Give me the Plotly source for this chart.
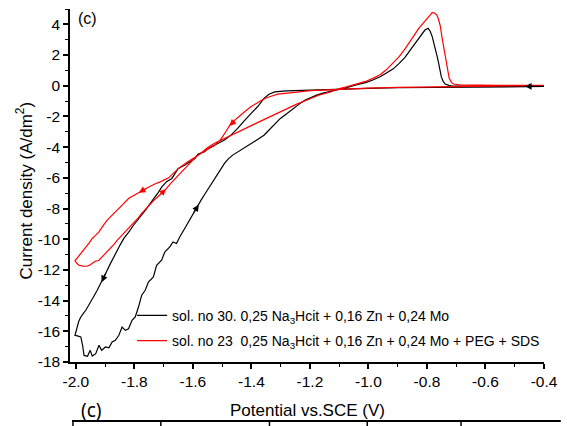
import plotly.graph_objects as go

# ---------------- data ----------------
BLACK_X = [-0.40, -0.50, -0.60, -0.70, -0.80, -0.90, -1.00, -1.10, -1.20, -1.28, -1.32, -1.34, -1.357, -1.379,
           -1.40, -1.413, -1.43, -1.447, -1.47, -1.492, -1.51, -1.526, -1.545, -1.56, -1.582, -1.593, -1.61,
           -1.627, -1.65, -1.66, -1.672, -1.69, -1.706, -1.718, -1.728, -1.745, -1.762, -1.775, -1.79, -1.803,
           -1.82, -1.836, -1.848, -1.859, -1.87, -1.882, -1.895, -1.906, -1.918, -1.927, -1.938, -1.949, -1.958,
           -1.966, -1.975, -1.983, -1.99, -1.994, -2.003,
           -1.995, -1.983, -1.977, -1.972, -1.96, -1.951, -1.944, -1.932, -1.921, -1.912, -1.899, -1.887, -1.876,
           -1.865, -1.853, -1.842, -1.831, -1.820, -1.808, -1.797, -1.786, -1.775, -1.763, -1.752, -1.735, -1.724,
           -1.707, -1.696, -1.679, -1.668, -1.656, -1.645, -1.628, -1.606, -1.588, -1.572, -1.554, -1.54, -1.526,
           -1.51, -1.492, -1.478, -1.464, -1.445, -1.424, -1.408, -1.391, -1.375, -1.357, -1.343, -1.329, -1.315,
           -1.301, -1.285, -1.272, -1.258, -1.244, -1.23, -1.216, -1.197, -1.177, -1.155, -1.132, -1.109, -1.075,
           -1.042, -1.01, -0.985, -0.96, -0.94, -0.915, -0.895, -0.875, -0.861, -0.845, -0.828, -0.807, -0.796,
           -0.789, -0.782, -0.776, -0.771, -0.765, -0.760, -0.755, -0.751, -0.745, -0.738, -0.725, -0.715, -0.65,
           -0.55, -0.45, -0.40]
BLACK_Y = [-0.05, -0.06, -0.07, -0.08, -0.10, -0.13, -0.17, -0.22, -0.28, -0.33, -0.40, -0.55, -0.82, -1.37,
           -1.78, -2.02, -2.40, -2.78, -3.22, -3.54, -3.70, -3.87, -4.05, -4.30, -4.45, -4.74, -4.95,
           -5.17, -5.39, -5.70, -6.04, -6.25, -6.59, -6.95, -7.24, -7.65, -8.11, -8.40, -8.76, -9.09,
           -9.55, -9.95, -10.35, -10.72, -11.10, -11.59, -12.10, -12.56, -12.95, -13.33, -13.70, -14.09, -14.40,
           -14.63, -14.85, -15.07, -15.35, -15.61, -16.26,
           -16.30, -16.37, -16.91, -17.57, -17.63, -17.24, -17.61, -17.46, -16.91, -17.24, -17.02, -17.07, -16.70,
           -16.59, -16.26, -15.72, -15.94, -15.83, -15.28, -15.07, -14.42, -13.65, -13.33, -12.79, -12.46, -11.70,
           -11.37, -10.83, -10.50, -10.18, -10.28, -9.85, -9.30, -8.55, -8.00, -7.45, -6.91, -6.50, -6.15,
           -5.60, -5.06, -4.75, -4.52, -4.30, -4.08, -3.85, -3.65, -3.45, -3.22, -2.95, -2.67, -2.40,
           -2.13, -1.90, -1.70, -1.48, -1.26, -1.10, -0.93, -0.75, -0.61, -0.48, -0.39, -0.28, -0.12,
           0.05, 0.20, 0.37, 0.58, 0.81, 1.10, 1.46, 1.85, 2.22, 2.65, 3.09, 3.63, 3.74,
           3.55, 3.20, 2.80, 2.33, 1.90, 1.46, 1.00, 0.59, 0.30, 0.11, 0.02, -0.02, -0.03,
           -0.03, -0.03, -0.03]

RED_X = [-0.40, -0.50, -0.60, -0.70, -0.80, -0.90, -1.00, -1.10, -1.20, -1.244, -1.28, -1.31, -1.335, -1.35,
         -1.368, -1.385, -1.402, -1.42, -1.436, -1.452, -1.47, -1.486, -1.503, -1.526, -1.554, -1.575, -1.593,
         -1.62, -1.65, -1.683, -1.71, -1.73, -1.755, -1.779, -1.80, -1.819, -1.84, -1.859, -1.876, -1.893,
         -1.908, -1.921, -1.933, -1.944, -1.955, -1.966, -1.978, -1.989, -2.003,
         -1.995, -1.989, -1.975, -1.963, -1.952, -1.944, -1.935, -1.921, -1.91, -1.899, -1.888, -1.876, -1.868,
         -1.859, -1.848, -1.836, -1.825, -1.814, -1.797, -1.786, -1.775, -1.755, -1.735, -1.715, -1.695, -1.675,
         -1.65, -1.62, -1.593, -1.57, -1.548, -1.526, -1.50, -1.47, -1.445, -1.42, -1.39, -1.35, -1.315, -1.28,
         -1.245, -1.21, -1.17, -1.132, -1.109, -1.075, -1.042, -1.01, -0.985, -0.96, -0.94, -0.918, -0.895,
         -0.878, -0.861, -0.845, -0.828, -0.812, -0.799, -0.79, -0.782, -0.774, -0.766, -0.76, -0.754, -0.749,
         -0.743, -0.737, -0.732, -0.728, -0.724, -0.716, -0.709, -0.69, -0.67, -0.55, -0.40]
RED_Y = [0.02, 0.00, -0.02, -0.04, -0.07, -0.11, -0.16, -0.22, -0.32, -0.42, -0.50, -0.55, -0.70, -0.80,
         -0.98, -1.17, -1.37, -1.65, -1.91, -2.18, -2.45, -2.95, -3.45, -3.90, -4.18, -4.45, -4.64,
         -4.98, -5.40, -6.00, -6.25, -6.40, -6.65, -6.91, -7.10, -7.33, -7.75, -8.12, -8.45, -8.76,
         -9.15, -9.52, -9.75, -9.95, -10.25, -10.50, -10.80, -11.04, -11.41,
         -11.60, -11.70, -11.75, -11.76, -11.68, -11.59, -11.45, -11.37, -11.15, -10.93, -10.72, -10.50, -10.30,
         -10.07, -9.85, -9.63, -9.40, -9.20, -8.87, -8.60, -8.32, -7.90, -7.50, -7.15, -6.80, -6.35,
         -5.85, -5.20, -4.70, -4.35, -4.00, -3.75, -3.50, -3.22, -2.98, -2.78, -2.50, -2.13, -1.80, -1.48,
         -1.20, -0.93, -0.62, -0.42, -0.24, -0.07, 0.11, 0.28, 0.48, 0.72, 1.02, 1.42, 1.89,
         2.32, 2.77, 3.25, 3.74, 4.10, 4.40, 4.60, 4.76, 4.74, 4.61, 4.30, 3.85, 3.20,
         2.54, 1.90, 1.24, 0.80, 0.48, 0.22, 0.11, 0.06, 0.05, 0.03, 0.03]

SERIES_NAMES = ["sol. no 30. 0,25 Na<sub>3</sub>Hcit + 0,16 Zn + 0,24 Mo",
                "sol. no 23  0,25 Na<sub>3</sub>Hcit + 0,16 Zn + 0,24 Mo + PEG + SDS"]

# scan-direction arrows: (tail x, tail y, head x, head y)
BLACK_ARROWS = [(-0.40, -0.04, -0.465, -0.04), (-1.895, -12.10, -1.912, -12.80), (-1.60, -8.35, -1.58, -7.75)]
RED_ARROWS = [(-1.452, -2.18, -1.475, -2.62), (-1.755, -6.65, -1.785, -6.97), (-1.715, -7.15, -1.692, -6.72)]

X_TICKS = [-2.0, -1.8, -1.6, -1.4, -1.2, -1.0, -0.8, -0.6, -0.4]
X_TICK_LABELS = ["-2.0", "-1.8", "-1.6", "-1.4", "-1.2", "-1.0", "-0.8", "-0.6", "-0.4"]
Y_TICKS = [-18, -16, -14, -12, -10, -8, -6, -4, -2, 0, 2, 4]
Y_TICK_LABELS = ["-18", "-16", "-14", "-12", "-10", "-8", "-6", "-4", "-2", "0", "2", "4"]

X_TITLE = "Potential vs.SCE (V)"
Y_TITLE = "Current density (A/dm<sup>2</sup>)"
PANEL_LABEL = "(c)"

# ---------------- figure ----------------
FONT = "Liberation Sans, Arial, sans-serif"
fig = go.Figure()
fig.add_trace(go.Scatter(x=BLACK_X, y=BLACK_Y, mode="lines", name=SERIES_NAMES[0],
                         line=dict(color="black", width=1.2), legendgroup="a"))
fig.add_trace(go.Scatter(x=RED_X, y=RED_Y, mode="lines", name=SERIES_NAMES[1],
                         line=dict(color="red", width=1.2), legendgroup="b"))

annotations = []
for arrows, col in ((BLACK_ARROWS, "black"), (RED_ARROWS, "red")):
    for tx, ty, hx, hy in arrows:
        annotations.append(dict(x=hx, y=hy, ax=tx, ay=ty, xref="x", yref="y", axref="x", ayref="y",
                                text="", showarrow=True, arrowhead=2, arrowsize=1.1, arrowwidth=1.2,
                                arrowcolor=col, standoff=0, startstandoff=0))

annotations += [
    dict(text=X_TITLE, xref="paper", yref="paper", x=0.5, y=0, yshift=-48, showarrow=False,
         xanchor="center", yanchor="middle", font=dict(family=FONT, size=17, color="black")),
    dict(text=Y_TITLE, xref="paper", yref="paper", x=0, y=0.5, xshift=-46, yshift=-5, showarrow=False,
         textangle=-90, xanchor="center", yanchor="middle", font=dict(family=FONT, size=17, color="black")),
    dict(text=PANEL_LABEL, xref="paper", yref="paper", x=0, y=1, xshift=6, yshift=-9, showarrow=False,
         xanchor="left", yanchor="middle", font=dict(family=FONT, size=16, color="black")),
    dict(text=PANEL_LABEL, xref="paper", yref="paper", x=0, y=0, xshift=21, yshift=-48, showarrow=False,
         xanchor="center", yanchor="middle", font=dict(family="Noto Sans, sans-serif", size=19, color="black")),
]

def px2x(p):
    return (p - 70) / 480.0

def py2y(p):
    return (362 - p) / 353.0

shapes = [dict(type="line", xref="paper", yref="paper", x0=px2x(72), x1=px2x(567), y0=py2y(421), y1=py2y(421),
               line=dict(color="black", width=2))]
for vx in (73, 162, 272, 371, 466):
    shapes.append(dict(type="line", xref="paper", yref="paper", x0=px2x(vx), x1=px2x(vx),
                       y0=py2y(421), y1=py2y(427), line=dict(color="black", width=1.5)))

axis_common = dict(showline=True, linecolor="black", linewidth=1.5, ticks="outside", ticklen=5,
                   tickwidth=1.5, tickcolor="black", showgrid=False, zeroline=False, mirror=False,
                   tickfont=dict(family=FONT, size=15.5, color="black"))

fig.update_layout(
    width=567, height=426,
    margin=dict(l=70, r=17, t=9, b=64),
    paper_bgcolor="white", plot_bgcolor="white",
    font=dict(family=FONT, color="black"),
    showlegend=True,
    legend=dict(x=0.131, y=0.176, xanchor="left", yanchor="top", bgcolor="rgba(0,0,0,0)",
                font=dict(family=FONT, size=14, color="black"), tracegroupgap=4, borderwidth=0),
    xaxis=dict(range=[-2.02, -0.4], tickmode="array", tickvals=X_TICKS, ticktext=X_TICK_LABELS,
               minor=dict(dtick=0.1, tick0=-2.0, ticks="outside", ticklen=3, tickwidth=1.2, tickcolor="black"),
               **axis_common),
    yaxis=dict(range=[-18, 5], tickmode="array", tickvals=Y_TICKS, ticktext=Y_TICK_LABELS,
               minor=dict(dtick=1, tick0=0, ticks="outside", ticklen=3, tickwidth=1.2, tickcolor="black"),
               **axis_common),
    annotations=annotations,
    shapes=shapes,
)

fig.write_html("out.html")
